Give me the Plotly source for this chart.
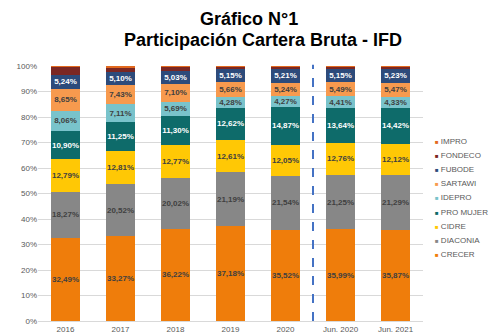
import plotly.graph_objects as go

# Categories (periods)
periods = ["2016", "2017", "2018", "2019", "2020", "Jun. 2020", "Jun. 2021"]

# Share of gross portfolio (%) per institution, stacked bottom to top
crecer   = [32.49, 33.27, 36.22, 37.18, 35.52, 35.99, 35.87]
diaconia = [18.27, 20.52, 20.02, 21.19, 21.54, 21.25, 21.29]
cidre    = [12.79, 12.81, 12.77, 12.61, 12.05, 12.76, 12.12]
promujer = [10.90, 11.25, 11.30, 12.62, 14.87, 13.64, 14.42]
idepro   = [8.06, 7.11, 5.69, 4.28, 4.27, 4.41, 4.33]
sartawi  = [8.65, 7.43, 7.10, 5.66, 5.24, 5.49, 5.47]
fubode   = [5.24, 5.10, 5.03, 5.15, 5.21, 5.15, 5.23]
fondeco  = [3.30, 2.10, 1.50, 1.00, 1.00, 1.00, 0.97]
impro    = [0.30, 0.41, 0.37, 0.31, 0.30, 0.31, 0.30]

y_ticks = [0, 10, 20, 30, 40, 50, 60, 70, 80, 90, 100]

series = [
    # name, values, colour, label colour (None = no labels)
    ("CRECER", crecer, "#EF7D0B", "#404040"),
    ("DIACONIA", diaconia, "#878787", "#404040"),
    ("CIDRE", cidre, "#FFC805", "#404040"),
    ("PRO MUJER", promujer, "#0E6B6A", "#FFFFFF"),
    ("IDEPRO", idepro, "#79C3CB", "#404040"),
    ("SARTAWI", sartawi, "#F79A4E", "#404040"),
    ("FUBODE", fubode, "#2D4B7B", "#FFFFFF"),
    ("FONDECO", fondeco, "#7B2723", None),
    ("IMPRO", impro, "#E2691E", None),
]

FONT = "Liberation Sans, Arial, sans-serif"


def pct_label(v):
    return f"{v:.2f}".replace(".", ",") + "%"


fig = go.Figure()
for name, vals, color, label_color in series:
    fig.add_trace(go.Bar(
        x=periods,
        y=vals,
        name=name,
        marker=dict(color=color, line=dict(width=0)),
        text=[pct_label(v) for v in vals] if label_color else None,
        textposition="inside" if label_color else "none",
        insidetextanchor="middle",
        textangle=0,
        constraintext="none",
        textfont=dict(family=FONT, size=8, color=label_color or "#404040", weight="bold"),
        hoverinfo="name+y",
        showlegend=False,
    ))

# Legend drawn as a text column on the right (top entry = last series)
L, R, T, B = 38, 66, 66, 15
W, H = 489 - L - R, 336 - T - B
legend_top_px = 141
legend_step_px = 14.2
for i, (name, vals, color, _) in enumerate(reversed(series)):
    ypx = legend_top_px + i * legend_step_px
    fig.add_annotation(
        xref="paper", yref="paper",
        x=(434 - L) / W, y=(336 - B - ypx) / H,
        xanchor="left", yanchor="middle",
        text=f"<span style='color:{color};font-size:6px'>■</span> {name}",
        showarrow=False, borderpad=0,
        font=dict(family=FONT, size=8, color="#595959"),
    )

# Title (two lines)
fig.add_annotation(
    xref="paper", yref="paper", x=(249 - L) / W, y=(336 - B - 19) / H,
    xanchor="center", yanchor="middle", showarrow=False,
    text="<b>Gráfico N°1</b>",
    font=dict(family=FONT, size=18, color="#000000"),
)
fig.add_annotation(
    xref="paper", yref="paper", x=(263 - L) / W, y=(336 - B - 40) / H,
    xanchor="center", yanchor="middle", showarrow=False,
    text="<b>Participación Cartera Bruta - IFD</b>",
    font=dict(family=FONT, size=18, color="#000000"),
)

# Dashed separator between annual and mid-year figures
fig.add_shape(
    type="line", xref="x", yref="paper",
    x0=4.5, x1=4.5, y0=0, y1=1.005,
    line=dict(color="#4472C4", width=2, dash="dash"),
)

fig.update_layout(
    barmode="stack",
    bargap=0.455,
    width=489, height=336,
    margin=dict(l=L, r=R, t=T, b=B, pad=0),
    paper_bgcolor="#FFFFFF",
    plot_bgcolor="#FFFFFF",
    font=dict(family=FONT, size=8, color="#595959"),
    xaxis=dict(
        type="category",
        automargin=False,
        showgrid=False,
        showline=True, linecolor="#D9D9D9", linewidth=1,
        ticks="", tickfont=dict(size=8, color="#595959"),
        range=[-0.5, 6.5],
    ),
    yaxis=dict(
        automargin=False,
        range=[0, 100],
        tickvals=y_ticks,
        ticktext=[f"{v}%" for v in y_ticks],
        showgrid=True, gridcolor="#D9D9D9", gridwidth=1,
        zeroline=False, showline=False, ticks="",
        tickfont=dict(size=8, color="#595959"),
    ),
    uniformtext=dict(minsize=8, mode="show"),
)

fig.write_html("out.html")
